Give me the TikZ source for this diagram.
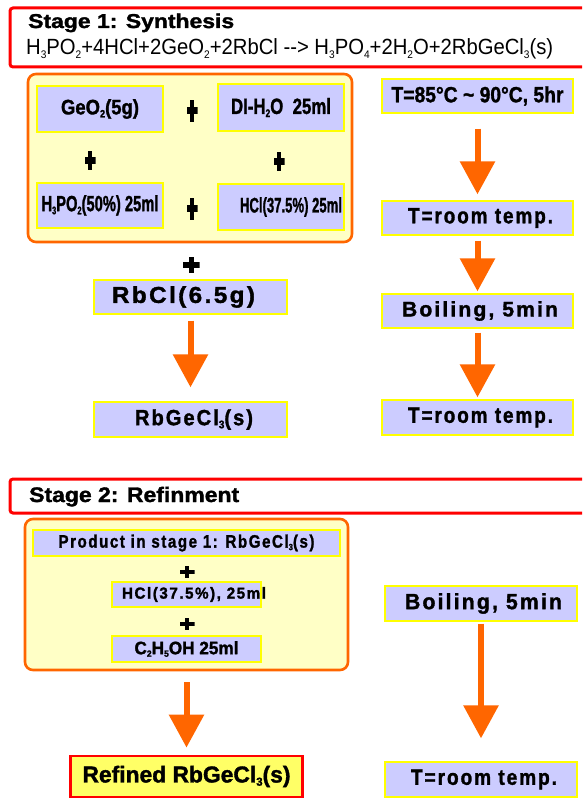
\documentclass[tikz,border=0pt]{standalone}
\usepackage{fontspec}
\setmainfont{Liberation Sans}[BoldFeatures={FakeBold=1.5}]
\newfontfamily\spacedfont{Liberation Sans}[LetterSpace=10,BoldFeatures={FakeBold=1.5}]
\usetikzlibrary{arrows.meta}
\definecolor{lav}{HTML}{CCCCFF}
\definecolor{ylw}{HTML}{FFFF00}
\definecolor{pale}{HTML}{FFFFC6}
\definecolor{org}{HTML}{FF6600}
\definecolor{rd}{HTML}{FF0000}
\definecolor{gold}{HTML}{FFFF66}
\newcommand\fw[2]{\resizebox{#1pt}{\height}{#2}}
\newcommand\lo[1]{\raisebox{-0.14em}{\scalebox{0.5}{#1}}}
\newcommand\fs[1]{\fontsize{#1}{#1}\bfseries}
\begin{document}
\begin{tikzpicture}[x=1pt,y=-1pt,
  chem/.style={fill=lav, draw=ylw, line width=1.3pt, inner sep=0pt, align=center, text=black},
  pan/.style={fill=pale, draw=org, line width=2.6pt, rounded corners=8pt, inner sep=0pt},
  frame/.style={draw=rd, line width=3pt, rounded corners=3pt, inner sep=0pt},
  final/.style={fill=gold, draw=rd, line width=2.8pt, inner sep=0pt},
  txt/.style={inner sep=0pt, text=black},
  plusmark/.style n args={4}{minimum width=#1pt, minimum height=#2pt, inner sep=0pt, outer sep=0pt,
    path picture={
      \fill[black] ([xshift=-#3pt/2]path picture bounding box.north) rectangle ([xshift=#3pt/2]path picture bounding box.south);
      \fill[black] ([yshift=#4pt/2]path picture bounding box.west) rectangle ([yshift=-#4pt/2]path picture bounding box.east);}},
  flow/.style={draw=org, line width=6pt, -{Triangle[width=34pt,length=33pt]}},
]
\useasboundingbox (0,0) rectangle (582,799);
\clip (0,0) rectangle (582,799);
\fill[white] (0,0) rectangle (582,799);

% ---------- Stage 1 ----------
\node[frame, minimum width=590pt, minimum height=59pt] (s1) at (305,37.5) {};
\node[txt, anchor=base west] (t1) at (28,28) {\fw{206}{\fs{20}Stage 1: Synthesis}};
\node[txt, anchor=base west] (eq) at (26,55) {\fw{527}{\fontsize{22}{22}\selectfont H\lo3PO\lo2+4HCl+2GeO\lo2+2RbCl -{}-> H\lo3PO\lo4+2H\lo2O+2RbGeCl\lo3(s)}};

\node[pan, minimum width=324pt, minimum height=168pt] (p1) at (190,158) {};
\node[chem, minimum width=126pt, minimum height=46pt] (geo) at (100,109) {\fw{78}{\fs{21}GeO\lo2(5g)}};
\node[chem, minimum width=126pt, minimum height=47pt] (di) at (281,107.5) {\fw{100}{\fs{22}DI-H\lo2O\ \ 25ml}};
\node[chem, minimum width=126pt, minimum height=45pt] (hp) at (100,205.5) {\fw{117}{\fs{22}H\lo3PO\lo2(50\%) 25ml}};
\node[chem, minimum width=126pt, minimum height=46pt] (hcl) at (281,207) {\hspace*{20pt}\fw{102}{\fs{21}HCl(37.5\%) 25ml}};
\node[plusmark={11}{22}{4.5}{7}] (pa) at (192,111) {};
\node[plusmark={11}{19}{4.5}{7}] (pb) at (90,161) {};
\node[plusmark={11}{19}{4.5}{7}] (pc) at (279,162) {};
\node[plusmark={11}{22}{4.5}{7}] (pd) at (192,209) {};
\node[plusmark={17}{16}{5}{5}] (pe) at (191,265) {};

\node[chem, minimum width=193pt, minimum height=34pt] (rbcl) at (190.5,297) {\fw{143}{\spacedfont\fs{23}RbCl(6.5g)}\hspace*{14pt}};
\node[chem, minimum width=193pt, minimum height=35pt] (rbgecl) at (190.5,419.5) {\hspace*{7pt}\fw{118}{\spacedfont\fs{22}RbGeCl\lo3(s)}};

\node[chem, minimum width=191pt, minimum height=34pt] (ta) at (477.5,96) {\fw{172}{\fs{22}T=85°C \textasciitilde\ 90°C, 5hr}};
\node[chem, minimum width=191pt, minimum height=34pt] (tb) at (477.5,218) {\hspace*{6pt}\fw{145}{\spacedfont\fs{22}T=room temp.}};
\node[chem, minimum width=191pt, minimum height=34pt] (tc) at (477.5,311) {\hspace*{5pt}\fw{156}{\spacedfont\fs{21}Boiling, 5min}};
\node[chem, minimum width=191pt, minimum height=35pt] (td) at (477.5,417.5) {\hspace*{6pt}\fw{145}{\spacedfont\fs{22}T=room temp.}};

\draw[flow, shorten <=6pt, shorten >=14pt] (rbcl.south) -- (rbgecl.north);
\draw[flow, shorten <=15pt, shorten >=6pt] (ta.south) -- (tb.north);
\draw[flow, shorten <=5pt, shorten >=2pt] (tb.south) -- (tc.north);
\draw[flow, shorten <=4pt, shorten >=2pt] (tc.south) -- (td.north);

% ---------- Stage 2 ----------
\node[frame, minimum width=590pt, minimum height=34pt] (s2) at (305,496) {};
\node[txt, anchor=base west] (t2) at (29,502) {\fw{210}{\fs{21}Stage 2: Refinment}};

\node[pan, minimum width=323pt, minimum height=151pt] (p2) at (186.5,594.5) {};
\node[chem, minimum width=307pt, minimum height=26pt] (prod) at (186.5,543) {\fw{256}{\spacedfont\fs{18}Product in stage 1: RbGeCl\lo3(s)}};
\node[plusmark={15}{12}{4}{4.5}] (pf) at (187,572) {};
\node[chem, minimum width=149pt, minimum height=25pt] (hcl2) at (186.5,594.5) {};
\node[txt] (hcl2t) at (194,594.5) {\fw{144}{\spacedfont\fs{16}HCl(37.5\%), 25ml}};
\node[plusmark={15}{12}{4}{4.5}] (pg) at (187,624) {};
\node[chem, minimum width=149pt, minimum height=26pt] (eth) at (186.5,649) {\fw{104}{\fs{18}C\lo2H\lo5OH 25ml}};

\node[final, minimum width=232pt, minimum height=41pt] (ref) at (186.5,776.5) {\fw{208}{\fs{23}Refined RbGeCl\lo3(s)}};

\node[chem, minimum width=192pt, minimum height=35pt] (b2) at (481,603.5) {\hspace*{5pt}\fw{157}{\spacedfont\fs{22}Boiling, 5min}};
\node[chem, minimum width=192pt, minimum height=35pt] (r2) at (481,779.5) {\hspace*{6pt}\fw{146}{\spacedfont\fs{22}T=room temp.}};

\draw[flow, shorten <=11pt, shorten >=7pt] (p2.south) -- (ref.north);
\draw[flow, shorten <=2pt, shorten >=23pt] (b2.south) -- (r2.north);
\end{tikzpicture}
\end{document}
